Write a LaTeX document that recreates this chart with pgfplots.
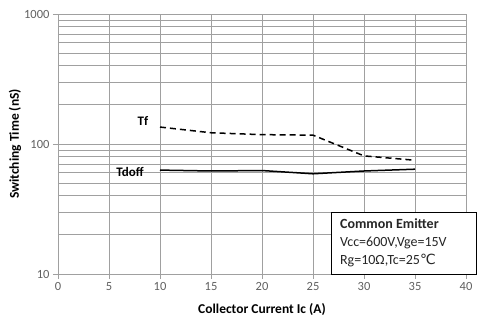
\documentclass[border=0pt]{standalone}
\usepackage{fontspec}
\setmainfont{Carlito}
\newfontfamily\dejavu{DejaVu Sans}
\usepackage{pgfplots}
\pgfplotsset{compat=1.18}
\definecolor{gridc}{RGB}{160,160,160}
\definecolor{tickc}{RGB}{95,95,95}
\begin{document}
\begin{tikzpicture}[x=1pt,y=1pt]
\path[use as bounding box] (-58,-50) rectangle (419,274);
\begin{axis}[
  at={(0,0)}, anchor=south west,
  scale only axis, width=408pt, height=260pt,
  xmin=0, xmax=40, ymode=log, ymin=10, ymax=1000,
  xtick={0,5,...,40},
  ytick={10,100,1000},
  yticklabels={10,100,1000},
  grid=both,
  major grid style={gridc, line width=0.8pt},
  minor grid style={gridc, line width=0.8pt},
  minor x tick num=0,
  axis line style={gridc, line width=0.8pt},
  tick style={gridc, line width=0.8pt},
  tick align=outside,
  major tick length=5pt,
  minor tick length=0pt,
  xtick pos=bottom, ytick pos=left,
  ticklabel style={font=\fontsize{12.5}{14}\selectfont, text=tickc},
  /pgf/number format/assume math mode=true,
  xlabel={\textbf{Collector Current Ic (A)}},
  ylabel={\textbf{Switching Time (nS)}},
  label style={font=\fontsize{13.5}{15}\selectfont},
  xlabel style={at={(rel axis cs:0.5,0)}, anchor=center, yshift=-36pt},
  ylabel style={at={(rel axis cs:0,0.5)}, anchor=center, yshift=43pt},
  clip=false,
]
\addplot[black, line width=1.5pt, dash pattern=on 6pt off 4pt] coordinates {
 (10,135) (15,122) (20,118) (25,117) (30,81) (35,75)};
\addplot[black, line width=1.5pt] coordinates {
 (10,63) (15,62) (20,62.5) (25,59) (30,62) (35,64)};
\node[font=\fontsize{13}{15}\selectfont\bfseries] at (axis cs:8.33,150) {Tf};
\node[font=\fontsize{13}{15}\selectfont\bfseries] at (axis cs:7.06,61) {Tdoff};
\draw[black, line width=0.9pt, fill=white] (rel axis cs:0.669,0) rectangle (rel axis cs:1.025,0.235);
\begin{scope}[every node/.style={anchor=base west, inner sep=0pt, font=\fontsize{14}{16}\selectfont, text=black!85}]
\node at (rel axis cs:0.691,0.175) {\textbf{Common Emitter}};
\node at (rel axis cs:0.691,0.106) {Vcc=600V,Vge=15V};
\node at (rel axis cs:0.691,0.0365) {Rg=10Ω,Tc=25{\dejavu ℃}};
\end{scope}
\end{axis}
\end{tikzpicture}
\end{document}
